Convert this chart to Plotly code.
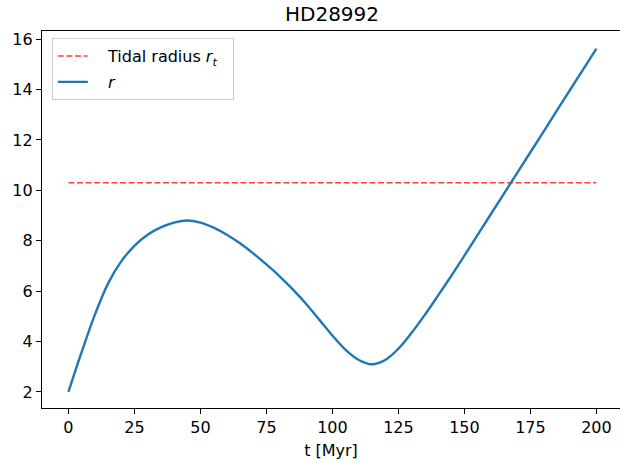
import plotly.graph_objects as go

t_vals = [0, 5, 10, 15, 20, 25, 30, 35, 40, 45, 50, 55, 60, 65, 70, 75, 80, 85, 90, 95, 100,
          105, 110, 115, 120, 125, 130, 135, 140, 145, 150, 155, 160, 165, 170, 175, 180,
          185, 190, 195, 200]
r_vals = [2.0, 3.58, 5.06, 6.3, 7.18, 7.8, 8.24, 8.53, 8.72, 8.8, 8.72, 8.52, 8.24, 7.9, 7.5,
          7.06, 6.59, 6.07, 5.5, 4.87, 4.24, 3.67, 3.27, 3.1, 3.27, 3.72, 4.35, 5.06, 5.82, 6.6,
          7.41, 8.23, 9.05, 9.87, 10.69, 11.51, 12.33, 13.16, 13.98, 14.8, 15.62]
tidal_t = [0, 200]
tidal_r = [10.3, 10.3]

font_family = "DejaVu Sans"
pad = "\u00a0\u00a0\u00a0"
fig = go.Figure()
fig.add_trace(go.Scatter(x=tidal_t, y=tidal_r, mode="lines",
                         name=pad + "Tidal radius <i>r</i><sub><i>t</i></sub>\u00a0\u00a0",
                         legendgroup="a",
                         line=dict(color="rgba(255,0,0,0.75)", width=1.5, dash="6px,2.6px")))
fig.add_trace(go.Scatter(x=t_vals, y=r_vals, mode="lines", name=pad + "<i>r</i>", legendgroup="b",
                         line=dict(color="#1f77b4", width=2.4, shape="spline", smoothing=1.0)))

fig.update_layout(
    width=620, height=463,
    margin=dict(l=42, r=0, t=31, b=55),
    paper_bgcolor="white", plot_bgcolor="white",
    font=dict(family=font_family, size=16, color="black"),
    title=dict(text="HD28992", x=332/620, xanchor="center", y=1-14/463, yanchor="middle",
               font=dict(size=20, family=font_family, color="black")),
    showlegend=True,
    legend=dict(x=0.017, y=0.981, xanchor="left", yanchor="top",
                bgcolor="rgba(255,255,255,0.8)", bordercolor="#cccccc", borderwidth=1,
                font=dict(size=16, family=font_family), traceorder="grouped",
                tracegroupgap=2),
)
fig.update_xaxes(range=[-10, -10 + 578/2.64], tickmode="array",
                 tickvals=[0, 25, 50, 75, 100, 125, 150, 175, 200],
                 ticks="outside", ticklen=5, tickwidth=1.2, tickcolor="black",
                 showline=True, linecolor="black", linewidth=1.2, mirror=True,
                 showgrid=False, zeroline=False,
                 title=dict(text="t [Myr]", standoff=8, font=dict(size=16)))
fig.update_yaxes(range=[1.365, 16.32], tickmode="array",
                 tickvals=[2, 4, 6, 8, 10, 12, 14, 16],
                 ticks="outside", ticklen=5, tickwidth=1.2, tickcolor="black",
                 showline=True, linecolor="black", linewidth=1.2, mirror=False,
                 showgrid=False, zeroline=False)

fig.write_html("out.html")
